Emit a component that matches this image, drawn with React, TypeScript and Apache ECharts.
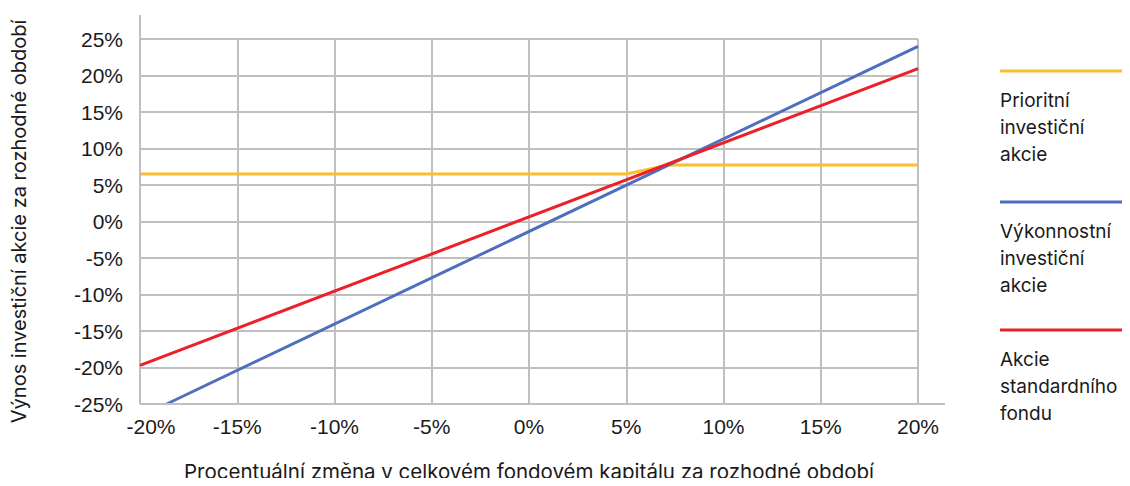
import React, { useEffect, useRef } from "react";
import * as echarts from "echarts";

const xTickValues = [-20, -15, -10, -5, 0, 5, 10, 15, 20];
const yTickValues = [-25, -20, -15, -10, -5, 0, 5, 10, 15, 20, 25];

const seriesNames = [
  "Prioritní\ninvestiční\nakcie",
  "Výkonnostní\ninvestiční\nakcie",
  "Akcie\nstandardního\nfondu",
];
const prioritniData: [number, number][] = [
  [-20, 6.5],
  [5, 6.5],
  [7.2, 7.75],
  [20, 7.75],
];
const vykonnostniData: [number, number][] = [
  [-18.63, -25],
  [20, 24],
];
const standardniData: [number, number][] = [
  [-20, -19.7],
  [20, 20.95],
];
const colors = ["#FDBE2C", "#4E6FBE", "#EC2027"];

const xTitle = "Procentuální změna v celkovém fondovém kapitálu za rozhodné období";
const yTitle = "Výnos investiční akcie za rozhodné období";

export default function App() {
  const ref = useRef<HTMLDivElement>(null);
  useEffect(() => {
    if (!ref.current) return;
    const chart = echarts.init(ref.current, undefined, { renderer: "svg" });
    const tickFont = "'Liberation Sans', Arial, sans-serif";
    const titleFont = "Inter, 'Noto Sans', sans-serif";
    const gray = "#BFBFBF";
    const textColor = "#1a1a1a";

    const legendGraphics: any[] = [];
    const legendY = [71, 202, 330];
    seriesNames.forEach((name, i) => {
      legendGraphics.push({
        type: "line",
        shape: { x1: 1000, y1: legendY[i], x2: 1126, y2: legendY[i] },
        style: { stroke: colors[i], lineWidth: 3 },
      });
      legendGraphics.push({
        type: "text",
        x: 1000,
        y: legendY[i] + 16,
        style: {
          text: name,
          fill: textColor,
          font: `400 19px ${titleFont}`,
          lineHeight: 27,
          textVerticalAlign: "top",
        },
      });
    });

    chart.setOption({
      animation: false,
      backgroundColor: "#ffffff",
      grid: {
        left: 140,
        right: 212,
        top: 39,
        bottom: 82,
        containLabel: false,
        outerBoundsMode: "none",
      },
      xAxis: {
        type: "value",
        min: -20,
        max: 20,
        interval: 5,
        axisLine: { show: false },
        axisTick: { show: false },
        splitLine: { show: true, lineStyle: { color: gray, width: 2 } },
        axisLabel: {
          formatter: (v: number) => {
            if (!xTickValues.includes(v)) return "";
            return v === xTickValues[0] ? `{first|${v}%}` : `${v}%`;
          },
          color: textColor,
          fontFamily: tickFont,
          fontSize: 21,
          margin: 12,
          rich: {
            first: {
              color: textColor,
              fontFamily: tickFont,
              fontSize: 21,
              padding: [0, 0, 0, 22],
            },
          },
        },
        name: xTitle,
        nameLocation: "middle",
        nameGap: 57,
        nameTextStyle: { color: textColor, fontFamily: titleFont, fontSize: 20.5 },
      },
      yAxis: {
        type: "value",
        min: -25,
        max: 25,
        interval: 5,
        axisLine: { show: false },
        axisTick: { show: false },
        splitLine: { show: true, lineStyle: { color: gray, width: 2 } },
        axisLabel: {
          formatter: (v: number) => (yTickValues.includes(v) ? `${v}%` : ""),
          color: textColor,
          fontFamily: tickFont,
          fontSize: 21,
          margin: 17,
        },
        name: yTitle,
        nameLocation: "middle",
        nameGap: 111,
        nameTextStyle: { color: textColor, fontFamily: titleFont, fontSize: 20 },
      },
      graphic: [
        {
          type: "line",
          shape: { x1: 140, y1: 15, x2: 140, y2: 404 },
          style: { stroke: gray, lineWidth: 2 },
          z: 5,
        },
        {
          type: "line",
          shape: { x1: 140, y1: 404, x2: 945, y2: 404 },
          style: { stroke: gray, lineWidth: 2 },
          z: 5,
        },
        ...legendGraphics,
      ],
      series: [
        {
          name: seriesNames[0],
          type: "line",
          data: prioritniData,
          showSymbol: false,
          lineStyle: { color: colors[0], width: 3 },
          z: 3,
        },
        {
          name: seriesNames[1],
          type: "line",
          data: vykonnostniData,
          showSymbol: false,
          lineStyle: { color: colors[1], width: 3 },
          z: 4,
        },
        {
          name: seriesNames[2],
          type: "line",
          data: standardniData,
          showSymbol: false,
          lineStyle: { color: colors[2], width: 3 },
          z: 5,
        },
      ],
    });
    return () => chart.dispose();
  }, []);
  return <div ref={ref} style={{ width: 1130, height: 486, margin: -8 }} />;
}
